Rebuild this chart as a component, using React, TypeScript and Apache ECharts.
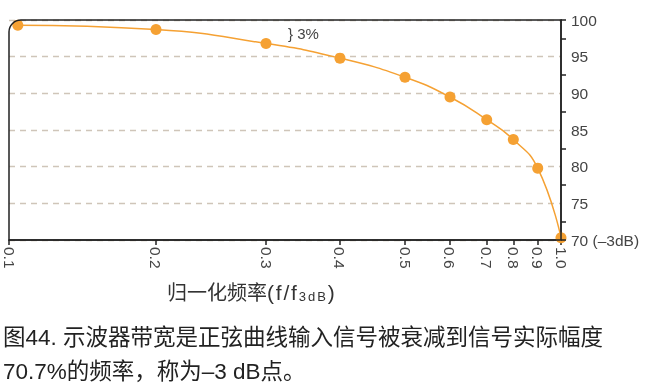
import React, { useEffect, useRef } from "react";
import * as echarts from "echarts";

// Frequency ticks and where the reference draws each of them along the axis (0 = left, 1 = right)
const xTicks = [0.1, 0.2, 0.3, 0.4, 0.5, 0.6, 0.7, 0.8, 0.9, 1.0];
const xTickPositions = [0, 0.2663, 0.4656, 0.5996, 0.7174, 0.7989, 0.8654, 0.9136, 0.9578, 1];
const freqs = [0.106, 0.2, 0.3, 0.4, 0.5, 0.6, 0.7, 0.8, 0.9, 1.0];
const amplitudes = [99.3, 98.7, 96.8, 94.8, 92.2, 89.5, 86.4, 83.7, 79.8, 70.3];
const xNameCn = "归一化频率";
const xNameLatin = "(f/f";
const xNameSub = "3dB";
const xNameEnd = ")";
const annotation = "} 3%";
const captionLines = [
  "图44. 示波器带宽是正弦曲线输入信号被衰减到信号实际幅度",
  "70.7%的频率，称为–3 dB点。",
];

const FONT = "'Liberation Sans', 'Noto Sans CJK SC', sans-serif";

// the reference's (non-uniform) frequency scale, piecewise between its ticks
function scaleX(f: number): number {
  for (let i = 0; i < xTicks.length - 1; i++) {
    if (f <= xTicks[i + 1]) {
      const t = (f - xTicks[i]) / (xTicks[i + 1] - xTicks[i]);
      return xTickPositions[i] + t * (xTickPositions[i + 1] - xTickPositions[i]);
    }
  }
  return 1;
}

const spaced = (s: string, style: string) =>
  s
    .split("")
    .map((ch) => `{${style}|${ch}}`)
    .join("");

export default function App() {
  const ref = useRef<HTMLDivElement>(null);
  useEffect(() => {
    if (!ref.current) return;
    const chart = echarts.init(ref.current, undefined, { renderer: "svg" });
    chart.setOption({
      animation: false,
      textStyle: { fontFamily: FONT },
      grid: { left: 9, right: 89, top: 20, bottom: 151 },
      xAxis: {
        type: "value",
        min: 0,
        max: 1,
        axisLine: { show: true, onZero: false, lineStyle: { color: "#222", width: 1.5 } },
        axisTick: {
          show: true,
          customValues: xTickPositions,
          length: 5,
          lineStyle: { color: "#222", width: 1.5 },
        },
        axisLabel: {
          customValues: xTickPositions,
          rotate: -90,
          margin: 7,
          fontSize: 15.5,
          color: "#444",
          fontFamily: FONT,
          formatter: (v: number) => {
            let best = 0;
            xTickPositions.forEach((p, i) => {
              if (Math.abs(p - v) < Math.abs(xTickPositions[best] - v)) best = i;
            });
            return xTicks[best].toFixed(1);
          },
        },
        splitLine: { show: false },
      },
      yAxis: {
        type: "value",
        position: "right",
        min: 70,
        max: 100,
        interval: 5,
        axisLine: { show: true, onZero: false, lineStyle: { color: "#222", width: 1.5 } },
        axisTick: { show: false },
        minorTick: {
          show: true,
          splitNumber: 2,
          length: 5,
          lineStyle: { color: "#222", width: 1.5 },
        },
        axisLabel: {
          margin: 10,
          fontSize: 15.5,
          color: "#444",
          fontFamily: FONT,
          formatter: (v: number) => (v === 70 ? "70 (–3dB)" : String(v)),
        },
        splitLine: {
          show: true,
          lineStyle: { color: "#cfc5b9", width: 1.3, type: [6, 5] },
        },
      },
      series: [
        {
          type: "line",
          data: freqs.map((f, i) => [scaleX(f), amplitudes[i]]),
          smooth: 0.5,
          symbol: "circle",
          symbolSize: 11,
          itemStyle: { color: "#F5A133" },
          lineStyle: { color: "#F5A133", width: 1.5 },
          z: 3,
        },
      ],
      graphic: [
        {
          type: "rect",
          shape: { x: 9, y: 20, width: 552, height: 220, r: [12, 0, 0, 0] },
          style: { fill: "none", stroke: "#222", lineWidth: 1.5 },
          z: 10,
          silent: true,
        },
        {
          type: "line",
          shape: { x1: 561, y1: 20, x2: 566, y2: 20 },
          style: { stroke: "#222", lineWidth: 1.5 },
          z: 10,
        },
        {
          type: "line",
          shape: { x1: 561, y1: 240, x2: 566, y2: 240 },
          style: { stroke: "#222", lineWidth: 1.5 },
          z: 10,
        },
        {
          type: "text",
          left: 288,
          top: 26,
          style: {
            text: annotation,
            fontSize: 15,
            fill: "#444",
            fontFamily: FONT,
          },
        },
        {
          type: "text",
          left: 167,
          top: 282,
          style: {
            text:
              `{c|${xNameCn}}` +
              spaced(xNameLatin, "a") +
              spaced(xNameSub, "s") +
              spaced(xNameEnd, "a"),
            fontFamily: FONT,
            rich: {
              c: { fontSize: 20, fill: "#333", fontFamily: FONT, verticalAlign: "bottom" },
              a: {
                fontSize: 21,
                fill: "#333",
                fontFamily: FONT,
                verticalAlign: "bottom",
                padding: [0, 1.8, 0, 0],
              },
              s: {
                fontSize: 13,
                fill: "#333",
                fontFamily: FONT,
                verticalAlign: "bottom",
                padding: [4, 2, 0, 0],
              },
            },
          },
        },
        {
          type: "text",
          left: 3,
          top: 320,
          style: {
            text: captionLines.join("\n"),
            fontSize: 22.5,
            lineHeight: 34,
            fill: "#222",
            fontFamily: FONT,
          },
        },
      ],
    });
    return () => chart.dispose();
  }, []);
  return <div ref={ref} style={{ width: 650, height: 391, position: "fixed", left: 0, top: 0 }} />;
}
